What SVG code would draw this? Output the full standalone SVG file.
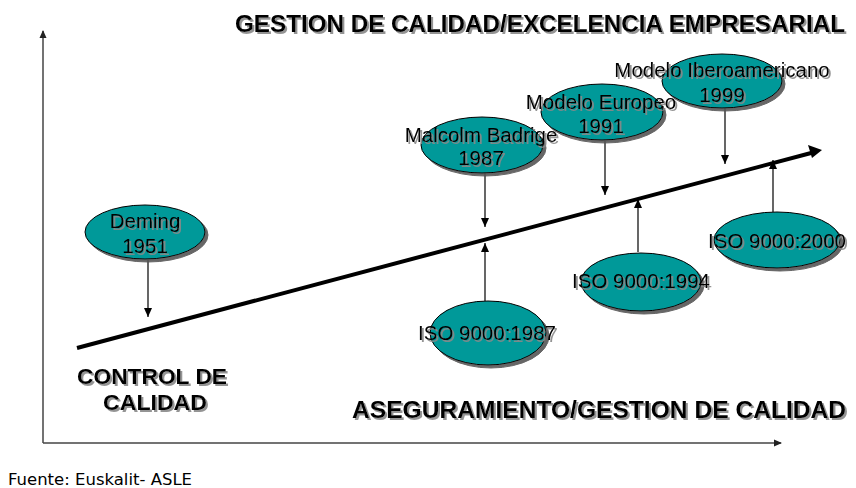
<svg xmlns="http://www.w3.org/2000/svg" width="856" height="488" viewBox="0 0 856 488">
<defs>
<style>
.lbl{font-family:"Liberation Sans",Arial,sans-serif;font-size:20.5px;fill:#000;text-anchor:middle;filter:url(#ts)}
.ttl{font-family:"Liberation Sans",Arial,sans-serif;font-weight:bold;fill:#000;filter:url(#ts)}
.ell{fill:#009999;stroke:#000;stroke-width:1;filter:url(#es)}
.con{stroke:#000;stroke-width:1.2;fill:none;marker-end:url(#ah)}
.axis{stroke:#444;stroke-width:1.5;fill:none;marker-end:url(#ax)}
</style>
<filter id="ts" x="-10%" y="-30%" width="120%" height="160%"><feDropShadow dx="2" dy="2" stdDeviation="0.4" flood-color="#888" flood-opacity="0.9"/></filter>
<filter id="es" x="-10%" y="-20%" width="130%" height="150%"><feDropShadow dx="3" dy="3" stdDeviation="0.6" flood-color="#555" flood-opacity="0.9"/></filter>
<marker id="ah" markerWidth="10" markerHeight="8" refX="9" refY="4" orient="auto" markerUnits="userSpaceOnUse"><path d="M0,0 L9,4 L0,8 Z" fill="#000"/></marker>
<marker id="ax" markerWidth="8" markerHeight="8" refX="7" refY="4" orient="auto" markerUnits="userSpaceOnUse"><path d="M0,0.5 L8,4 L0,7.5 Z" fill="#222"/></marker>
</defs>
<rect width="856" height="488" fill="#fff"/>

<g id="axes">
<path class="axis" d="M43,443 L43,31"/>
<path class="axis" d="M43,443 L781,443"/>
</g>

<g id="connectors">
<path d="M77,348 L812,152.7" stroke="#000" stroke-width="4" fill="none"/>
<polygon points="822,150 808,145 812,158" fill="#000"/>
<path class="con" d="M148,260 L148,317"/>
<path class="con" d="M485,173 L485,227"/>
<path class="con" d="M485,301 L485,243"/>
<path class="con" d="M605,141 L605,195"/>
<path class="con" d="M725,108 L725,164"/>
<path class="con" d="M638,252 L638,199"/>
<path class="con" d="M773,212 L773,160"/>
</g>

<g id="deming">
<ellipse class="ell" cx="145" cy="232" rx="60" ry="27"/>
<text class="lbl" x="145" y="228">Deming</text>
<text class="lbl" x="145" y="253">1951</text>
</g>
<g id="malcolm">
<ellipse class="ell" cx="482" cy="145" rx="61" ry="28"/>
<text class="lbl" x="481" y="142">Malcolm Badrige</text>
<text class="lbl" x="481" y="165">1987</text>
</g>
<g id="iso1987">
<ellipse class="ell" cx="488" cy="333" rx="58" ry="32"/>
<text class="lbl" x="487" y="340">ISO 9000:1987</text>
</g>
<g id="europeo">
<ellipse class="ell" cx="602" cy="112" rx="61" ry="28"/>
<text class="lbl" x="601" y="109">Modelo Europeo</text>
<text class="lbl" x="601" y="133">1991</text>
</g>
<g id="ibero">
<ellipse class="ell" cx="722" cy="81" rx="60" ry="27"/>
<text class="lbl" x="722" y="77">Modelo Iberoamericano</text>
<text class="lbl" x="722" y="102">1999</text>
</g>
<g id="iso1994">
<ellipse class="ell" cx="641" cy="282" rx="60" ry="29"/>
<text class="lbl" x="641" y="288">ISO 9000:1994</text>
</g>
<g id="iso2000">
<ellipse class="ell" cx="777" cy="240" rx="63" ry="28"/>
<text class="lbl" x="777" y="248">ISO 9000:2000</text>
</g>

<g id="titles">
<text class="ttl" x="235" y="32" font-size="23" textLength="610" lengthAdjust="spacingAndGlyphs">GESTION DE CALIDAD/EXCELENCIA EMPRESARIAL</text>
<text class="ttl" x="77" y="384" font-size="22" textLength="150" lengthAdjust="spacingAndGlyphs">CONTROL DE</text>
<text class="ttl" x="103" y="410" font-size="22" textLength="104" lengthAdjust="spacingAndGlyphs">CALIDAD</text>
<text class="ttl" x="352" y="418" font-size="23" textLength="494" lengthAdjust="spacingAndGlyphs">ASEGURAMIENTO/GESTION DE CALIDAD</text>
<text x="8" y="485" font-family="DejaVu Sans,Verdana,sans-serif" font-size="15.5" textLength="184" lengthAdjust="spacingAndGlyphs" fill="#000">Fuente: Euskalit- ASLE</text>
</g>
</svg>
